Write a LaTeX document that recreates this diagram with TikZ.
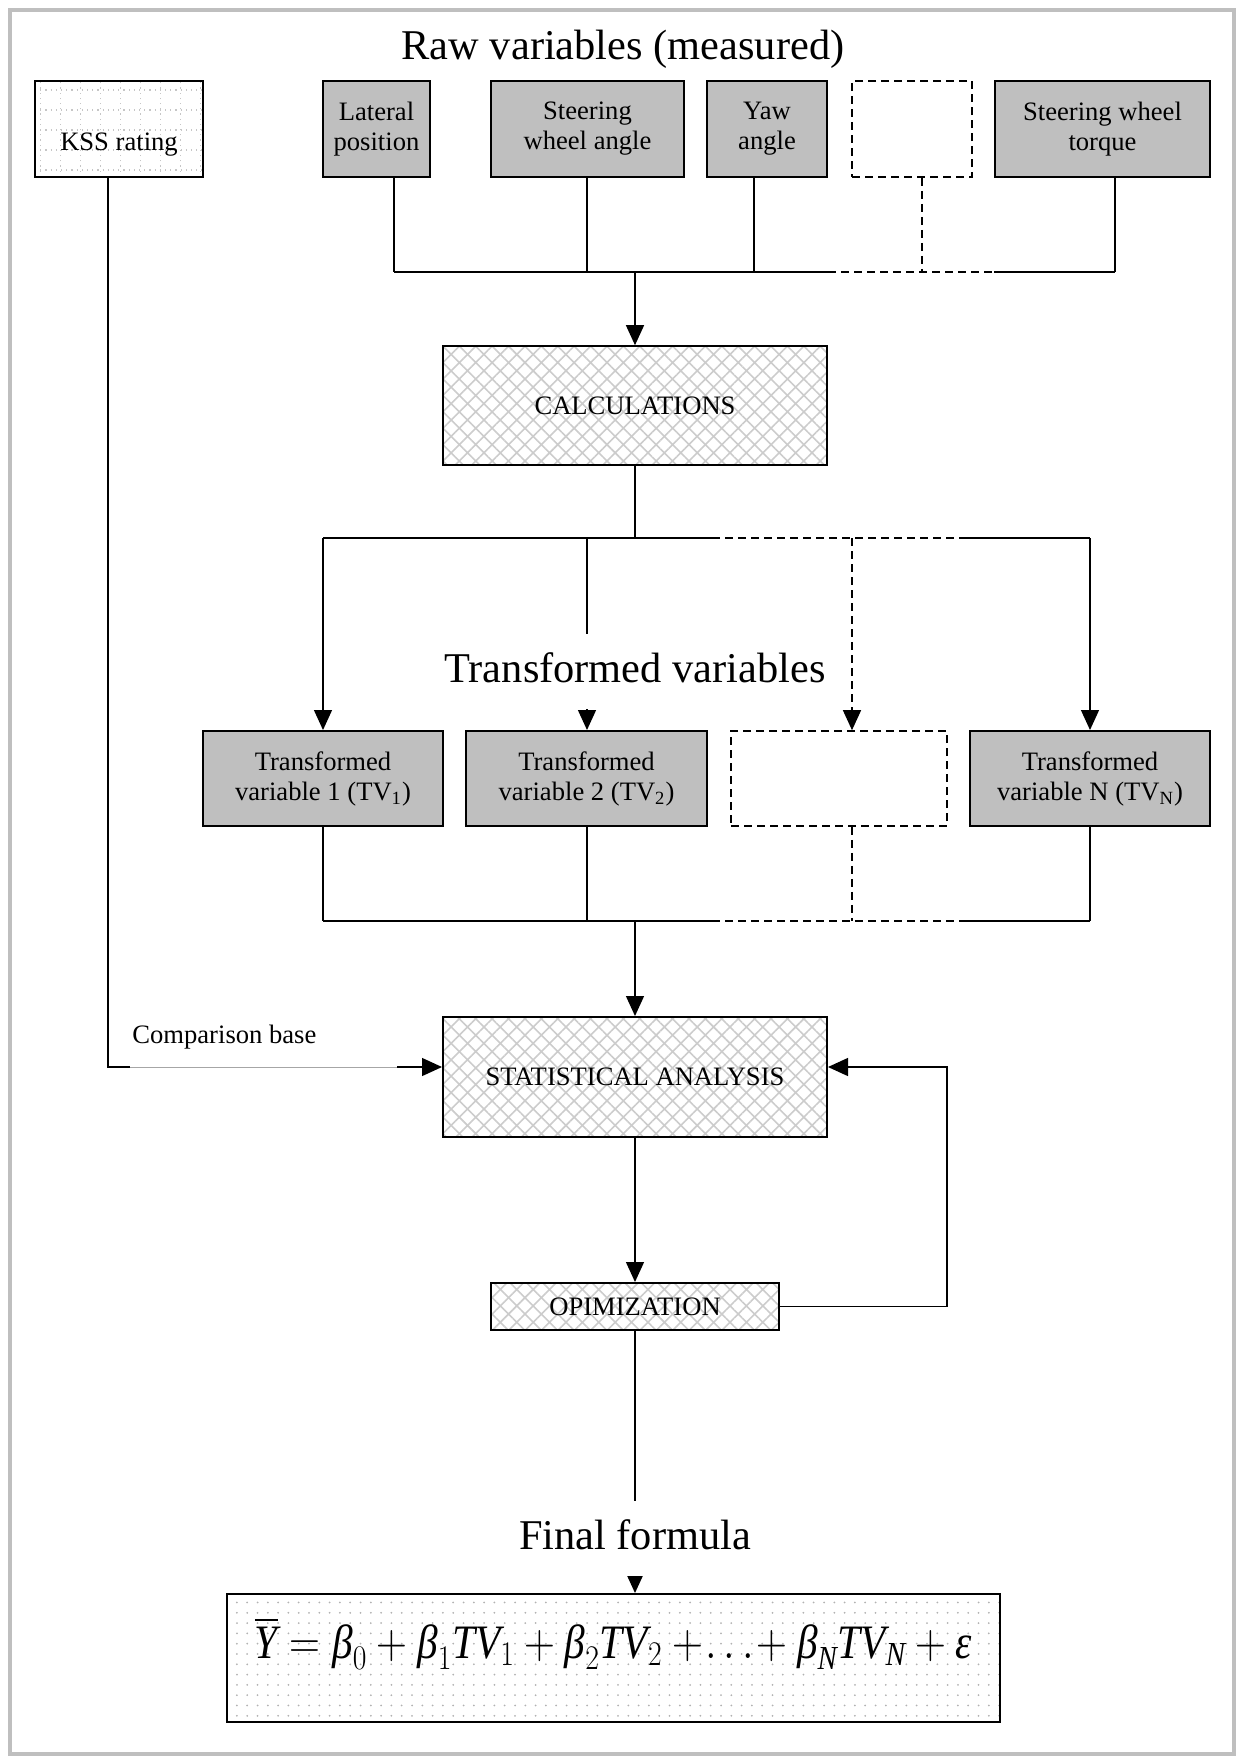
\documentclass[tikz,border=0pt]{standalone}
\usepackage{amsmath}
\usepackage{graphicx}
\usepackage{fontspec}
\setmainfont{Liberation Serif}
\usetikzlibrary{arrows.meta}
\usetikzlibrary{patterns.meta}
\usetikzlibrary{calc}

\newcommand{\fv}[1]{\textit{#1}}

\begin{document}
\begin{tikzpicture}[x=0.5pt, y=-0.5pt,
    every node/.style={inner sep=0pt, align=center, font=\fontsize{13.3}{15}\selectfont},
    rawbox/.style={draw=black, line width=1pt, fill=lightgray, minimum height=48pt},
    tvbox/.style={rawbox, minimum height=47.5pt},
    dashbox/.style={draw=black, line width=0.8pt, dash pattern=on 4pt off 2.5pt},
    kssbox/.style={draw=black, line width=1pt, minimum width=84pt, minimum height=48pt,
        path picture={\draw[gray!45, dotted, line width=0.6pt] (path picture bounding box.south west) grid[step=10pt] (path picture bounding box.north east);}},
    calcbox/.style={draw=black, line width=1pt, pattern={Hatch[angle=45, distance=5.8pt, line width=0.8pt]}, pattern color=gray!40},
    formbox/.style={draw=black, line width=1pt, pattern={Dots[distance=5.15pt, radius=0.5pt]}, pattern color=gray!60},
    heading/.style={font=\fontsize{21.2}{24}\selectfont, fill=white, inner xsep=2pt, inner ysep=9pt, text height=15pt, text depth=4.5pt, anchor=base},
    conn/.style={line width=0.65pt},
    arr/.style={-{Triangle[length=10pt, width=9pt]}}]

        \useasboundingbox (0,0) rectangle (1236,1757);

        % Page frame
        \draw[lightgray, line width=2pt] (10,10) rectangle (1234,1754);

        % Measured variables
        \node[kssbox, text height=25pt, text depth=4pt] (kss) at (119,129) {KSS rating};
        \node[rawbox, minimum width=53.5pt] (lat) at (376.5,129) {Lateral\\position};
        \node[rawbox, minimum width=96.5pt] (swa) at (587.5,129) {Steering\\wheel angle};
        \node[rawbox, minimum width=60pt] (yaw) at (767,129) {Yaw\\angle};
        \node[dashbox, minimum width=60pt, minimum height=48pt] (dsh1) at (912,129) {};
        \node[rawbox, minimum width=107.5pt] (swt) at (1102.5,129) {Steering wheel\\torque};

        % Calculation step
        \node[calcbox, minimum width=192pt, minimum height=59.5pt] (calc) at (635,405.5) {CALCULATIONS};

        % Transformed variables
        \node[tvbox, minimum width=120pt] (tv1) at (323,778.5) {Transformed\\variable 1 (TV\textsubscript{1})};
        \node[tvbox, minimum width=120.5pt] (tv2) at (586.5,778.5) {Transformed\\variable 2 (TV\textsubscript{2})};
        \node[dashbox, minimum width=108pt, minimum height=47.5pt] (dsh2) at (839,778.5) {};
        \node[tvbox, minimum width=120pt] (tvn) at (1090,778.5) {Transformed\\variable N (TV\textsubscript{N})};

        % Analysis and optimization
        \node[calcbox, minimum width=192pt, minimum height=60pt] (sa) at (635,1077) {STATISTICAL ANALYSIS};
        \node[calcbox, minimum width=144pt, minimum height=23.5pt] (opt) at (635,1306.5) {OPIMIZATION};

        % Final formula box
        \node[formbox, minimum width=386.5pt, minimum height=64pt, font=\fontsize{24}{28}\selectfont, text height=14pt, text depth=14pt] (form) at (613.5,1658)
          {\scalebox{0.86}[1]{$\overline{\fv{Y}} = \fv{β}_{0} + \fv{β}_{1}\fv{TV}_{1} + \fv{β}_{2}\fv{TV}_{2} +\!\ldots\!+ \fv{β}_{\fv{N}}\fv{TV}_{\fv{N}} + \fv{ε}$}};

        % Collector of the measured variables
        \coordinate (rb) at (635,272);
        \foreach \n/\x in {lat/394, swa/587, yaw/754, swt/1115} {
          \coordinate (r\n) at (\x,272);
          \draw[conn] (r\n |- \n.south) -- (r\n);
        }
        \coordinate (rdsh) at (922,272);
        \draw[conn, dash pattern=on 4pt off 2.5pt] (rdsh |- dsh1.south) -- (rdsh);
        \draw[conn] (rlat) -- (rlat -| yaw.east);
        \draw[conn, dash pattern=on 4pt off 2.5pt] (rlat -| yaw.east) -- (rlat -| swt.west);
        \draw[conn] (rlat -| swt.west) -- (rswt);
        \draw[conn, arr] (rb) -- (calc);

        % Distributor to the transformed variables
        \coordinate (tb) at (635,538);
        \coordinate (t1) at (323,538);
        \coordinate (t2) at (587,538);
        \coordinate (t3) at (852,538);
        \coordinate (t4) at (1090,538);
        \coordinate (ta) at (712,538);
        \coordinate (tz) at (966,538);
        \draw[conn] (calc) -- (tb);
        \draw[conn] (t1) -- (ta);
        \draw[conn, dash pattern=on 4pt off 2.5pt] (ta) -- (tz);
        \draw[conn] (tz) -- (t4);
        \draw[conn, arr] (t1) -- (t1 |- tv1.north);
        \draw[conn, arr] (t2) -- (t2 |- tv2.north);
        \draw[conn, arr, dash pattern=on 4pt off 2.5pt] (t3) -- (t3 |- dsh2.north);
        \draw[conn, arr] (t4) -- (t4 |- tvn.north);

        % Collector of the transformed variables
        \coordinate (bb) at (635,921);
        \coordinate (b1) at (323,921);
        \coordinate (b2) at (587,921);
        \coordinate (b3) at (852,921);
        \coordinate (b4) at (1090,921);
        \coordinate (ba) at (712,921);
        \coordinate (bz) at (966,921);
        \draw[conn] (b1 |- tv1.south) -- (b1);
        \draw[conn] (b2 |- tv2.south) -- (b2);
        \draw[conn, dash pattern=on 4pt off 2.5pt] (b3 |- dsh2.south) -- (b3);
        \draw[conn] (b4 |- tvn.south) -- (b4);
        \draw[conn] (b1) -- (ba);
        \draw[conn, dash pattern=on 4pt off 2.5pt] (ba) -- (bz);
        \draw[conn] (bz) -- (b4);
        \draw[conn, arr] (bb) -- (sa);

        % Comparison base from the KSS rating
        \coordinate (k1) at (108,1067);
        \coordinate (k2) at (130,1067);
        \coordinate (k3) at (397,1067);
        \draw[conn] (k1 |- kss.south) -- (k1) -- (k2);
        \draw[gray!70, line width=0.4pt] (k2) -- (k3);
        \draw[conn, arr] (k3) -- (k3 -| sa.west);
        \node[anchor=base west] (cmp) at (132,1043) {Comparison base};

        % Optimization loop
        \coordinate (fb) at (947,1067);
        \draw[conn, arr] (sa) -- (opt);
        \draw[conn, arr] (opt.east) -| (fb) -- (fb -| sa.east);
        \draw[conn, arr] (opt) -- (opt |- form.north);

        % Headings
        \node[heading, fill=none] (rawtitle) at (623,59) {Raw variables (measured)};
        \node[heading] (tvtitle) at (635,682) {Transformed variables};
        \node[heading] (fftitle) at (635,1549) {Final formula};

\end{tikzpicture}
\end{document}
